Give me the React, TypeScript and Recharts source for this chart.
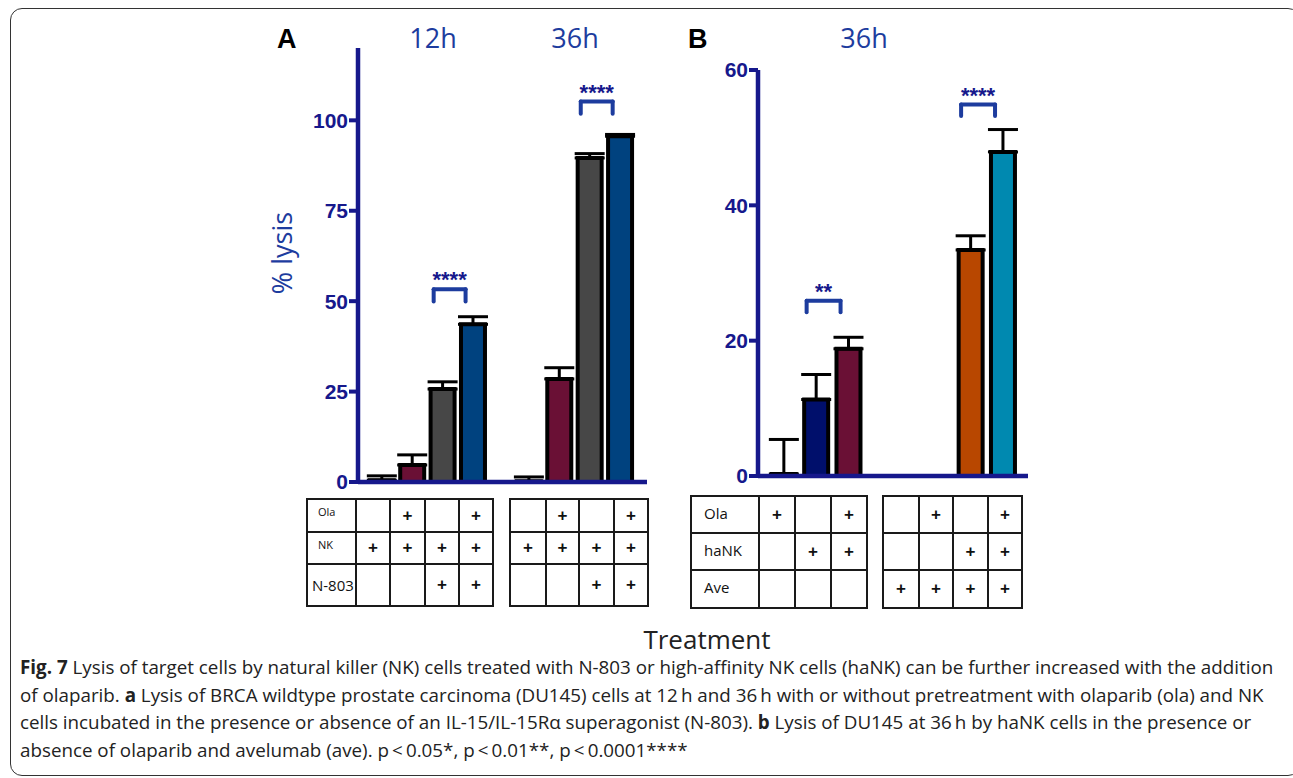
import React from 'react';
import { BarChart, Bar, XAxis, YAxis, Cell, ErrorBar, ReferenceLine } from 'recharts';

// panel A: % lysis at 12h and 36h, four conditions per time point
const groupsA = ['12h', '36h'];
const lysisA = [
  [0.5, 4.7, 25.7, 43.6],
  [0.2, 28.5, 89.6, 95.6],
];
const errA = [
  [1.2, 2.8, 2.0, 2.1],
  [1.2, 3.1, 1.2, 0.5],
];
const coloursA = ['#ffffff', '#6a1035', '#474747', '#00427f'];
const ticksA = [0, 25, 50, 75, 100];

// panel B: % lysis at 36h, without / with avelumab
const groupsB = ['no Ave', 'Ave'];
const lysisB: (number | null)[][] = [
  [0.3, 11.3, 18.8],
  [null, null, 33.4, 47.9],
];
const errB: (number | null)[][] = [
  [5.1, 3.7, 1.7],
  [null, null, 2.1, 3.3],
];
const coloursB = [
  ['#ffffff', '#000f6b', '#6a1035'],
  ['#ffffff', '#ffffff', '#b84700', '#0089b0'],
];
const ticksB = [0, 20, 40, 60];

const sigA = [
  { group: 0, from: 2, to: 3, level: 53.3, stars: '****' },
  { group: 1, from: 2, to: 3, level: 105.2, stars: '****' },
];
const sigB = [
  { group: 0, from: 1, to: 2, level: 25.9, stars: '**' },
  { group: 1, from: 2, to: 3, level: 54.9, stars: '****' },
];

// treatment tables
const rowNamesA = ['Ola', 'NK', 'N-803'];
const marksA = [
  [[0, 1, 0, 1], [1, 1, 1, 1], [0, 0, 1, 1]],
  [[0, 1, 0, 1], [1, 1, 1, 1], [0, 0, 1, 1]],
];
const rowNamesB = ['Ola', 'haNK', 'Ave'];
const marksB = [
  [[1, 0, 1], [0, 1, 1], [0, 0, 0]],
  [[0, 1, 0, 1], [0, 0, 1, 1], [1, 1, 1, 1]],
];

const NAVY = '#16188c';
const BLUE = '#1d3c9e';

const GAP_A = 4.84;
const GAP_B = 3.78;
const posA = (g: number, i: number) => 1 + i + g * GAP_A;
const posB = (g: number, i: number) => 1 + i + g * GAP_B;

const buildRows = (vals: (number | null)[][], errs: (number | null)[][], fills: (i: number, g: number) => string, pos: (g: number, i: number) => number) =>
  vals.flatMap((grp, g) =>
    grp.map((v, i) => ({
      x: pos(g, i),
      value: v,
      err: errs[g][i] == null ? null : [0, errs[g][i]],
      fill: fills(i, g),
    }))
  );

const dataA = buildRows(lysisA, errA, (i) => coloursA[i], posA);
const dataB = buildRows(lysisB, errB, (i, g) => coloursB[g][i], posB);

const tickStyle = { fill: NAVY, fontSize: 21, fontWeight: 'bold' as const, fontFamily: 'Liberation Sans, Arial, sans-serif' };

const brackets = (sig: typeof sigA, pos: (g: number, i: number) => number, leg: number) =>
  sig.flatMap((s, k) => {
    const a = pos(s.group, s.from) - 0.3;
    const b = pos(s.group, s.to) - 0.25;
    const common = { stroke: BLUE, strokeWidth: 4, strokeLinecap: 'round' as const, ifOverflow: 'visible' as const };
    return [
      <ReferenceLine key={`l${k}`} segment={[{ x: a, y: s.level }, { x: a, y: s.level - leg }]} {...common} />,
      <ReferenceLine key={`r${k}`} segment={[{ x: b, y: s.level }, { x: b, y: s.level - leg }]} {...common} />,
      <ReferenceLine
        key={`t${k}`}
        segment={[{ x: a, y: s.level }, { x: b, y: s.level }]}
        {...common}
        label={{ value: s.stars, position: 'top', fill: NAVY, fontSize: 22, fontWeight: 'bold', fontFamily: 'Liberation Sans, Arial, sans-serif', offset: 2 }}
      />,
    ];
  });

const Panel = ({ data, domainX, domainY, ticksY, ticksX, margin, sig, pos, leg }: any) => (
  <BarChart width={400} height={480} data={data} margin={margin}>
    <XAxis
      type="number"
      dataKey="x"
      domain={domainX}
      ticks={ticksX}
      tick={false}
      tickSize={9}
      height={10}
      allowDataOverflow
      stroke={NAVY}
      strokeWidth={4.5}
      axisLine={{ stroke: NAVY, strokeWidth: 4.5 }}
      tickLine={{ stroke: NAVY, strokeWidth: 4 }}
    />
    <YAxis
      type="number"
      domain={domainY}
      ticks={ticksY}
      width={98}
      tickSize={9}
      tickMargin={1}
      allowDataOverflow
      stroke={NAVY}
      strokeWidth={4.5}
      tick={tickStyle}
      axisLine={{ stroke: NAVY, strokeWidth: 4.5 }}
      tickLine={{ stroke: NAVY, strokeWidth: 4 }}
    />
    <Bar dataKey="value" barSize={24} stroke="#000" strokeWidth={4} isAnimationActive={false}>
      {data.map((d: any, i: number) => (
        <Cell key={i} fill={d.fill} stroke="#000" strokeWidth={4} />
      ))}
      <ErrorBar dataKey="err" width={15} stroke="#000" strokeWidth={3} direction="y" />
    </Bar>
    {brackets(sig, pos, leg)}
  </BarChart>
);

const Grid = ({ left, top, cols, rows, labels, marks, labelStyle }: any) => {
  const cells: React.ReactNode[] = [];
  rows.forEach((_: number, r: number) => {
    if (labels) {
      cells.push(
        <div key={`l${r}`} style={{ background: '#fff', fontFamily: 'Open Sans, sans-serif', color: '#111', ...labelStyle(r) }}>
          {labels[r]}
        </div>
      );
    }
    marks[r].forEach((m: number, c: number) => {
      cells.push(
        <div key={`${r}-${c}`} style={{ background: '#fff', display: 'flex', alignItems: 'center', justifyContent: 'center', fontFamily: 'Liberation Sans, Arial, sans-serif', fontSize: 17, fontWeight: 'bold', color: '#111' }}>
          {m ? '+' : ''}
        </div>
      );
    });
  });
  return (
    <div
      style={{
        position: 'absolute',
        left,
        top,
        display: 'grid',
        gridTemplateColumns: cols.map((c: number) => `${c}px`).join(' '),
        gridTemplateRows: rows.map((r: number) => `${r}px`).join(' '),
        gap: 2,
        padding: 2,
        background: '#1a1a1a',
      }}
    >
      {cells}
    </div>
  );
};

const captionLines = [
  [['Fig. 7', true], [' Lysis of target cells by natural killer (NK) cells treated with N-803 or high-affinity NK cells (haNK) can be further increased with the addition', false]],
  [['of olaparib. ', false], ['a', true], [' Lysis of BRCA wildtype prostate carcinoma (DU145) cells at 12\u2009h and 36\u2009h with or without pretreatment with olaparib (ola) and NK', false]],
  [['cells incubated in the presence or absence of an IL-15/IL-15R\u03b1 superagonist (N-803). ', false], ['b', true], [' Lysis of DU145 at 36\u2009h by haNK cells in the presence or', false]],
  [['absence of olaparib and avelumab (ave). p\u2009<\u20090.05*, p\u2009<\u20090.01**, p\u2009<\u20090.0001****', false]],
];

export default function App() {
  const ticksXA = groupsA.flatMap((_, g) => lysisA[g].map((__, i) => posA(g, i)));
  const ticksXB = groupsB.flatMap((_, g) => lysisB[g].map((__, i) => posB(g, i)));
  const labelA = (r: number) =>
    r < 2
      ? { fontSize: 11, paddingLeft: 10, paddingTop: 4 }
      : { fontSize: 15, paddingLeft: 4, display: 'flex', alignItems: 'center' };
  const labelB = () => ({ fontSize: 15, paddingLeft: 12, display: 'flex', alignItems: 'center', paddingBottom: 4 });
  return (
    <div style={{ position: 'absolute', left: 0, top: 0, width: 1293, height: 778, overflow: 'hidden', background: '#fff' }}>
      <div
        style={{
          position: 'absolute',
          left: 10,
          top: 8,
          width: 1290,
          height: 768,
          border: '1.5px solid #333',
          borderRadius: 12,
          boxSizing: 'border-box',
        }}
      />
      <div style={{ position: 'absolute', left: 260, top: 20 }}>
        <Panel
          data={dataA}
          domainX={[0.21, 9.72]}
          domainY={[0, 120]}
          ticksY={ticksA}
          ticksX={ticksXA}
          margin={{ top: 28, right: 13, bottom: 8, left: 0 }}
          sig={sigA}
          pos={posA}
          leg={3.4}
        />
      </div>
      <div style={{ position: 'absolute', left: 660, top: 20 }}>
        <Panel
          data={dataB}
          domainX={[0.195, 8.55]}
          domainY={[0, 60]}
          ticksY={ticksB}
          ticksX={ticksXB}
          margin={{ top: 50, right: 32, bottom: 14, left: 0 }}
          sig={sigB}
          pos={posB}
          leg={1.7}
        />
      </div>
      <svg width={1293} height={778} style={{ position: 'absolute', left: 0, top: 0, pointerEvents: 'none' }}>
        <text x={277} y={48} fontFamily="Liberation Sans, Arial, sans-serif" fontWeight="bold" fontSize={27} fill="#000">A</text>
        <text x={688} y={48} fontFamily="Liberation Sans, Arial, sans-serif" fontWeight="bold" fontSize={27} fill="#000">B</text>
        <text x={433} y={48} textAnchor="middle" fontFamily="Open Sans, sans-serif" fontSize={27} fill={BLUE}>{groupsA[0]}</text>
        <text x={575} y={48} textAnchor="middle" fontFamily="Open Sans, sans-serif" fontSize={27} fill={BLUE}>{groupsA[1]}</text>
        <text x={864} y={48} textAnchor="middle" fontFamily="Open Sans, sans-serif" fontSize={27} fill={BLUE}>36h</text>
        <text x={292} y={253} transform="rotate(-90 292 253)" textAnchor="middle" fontFamily="Open Sans, sans-serif" fontSize={27} fill={BLUE}>% lysis</text>
        <text x={707} y={649} textAnchor="middle" fontFamily="Open Sans, sans-serif" fontSize={26} fill="#222">Treatment</text>
        {captionLines.map((line, k) => (
          <text key={k} x={20} y={674 + k * 27.5} fontFamily="Open Sans, sans-serif" fontSize={18.8} fill="#222">
            {line.map(([t, b], j) => (
              <tspan key={j} fontWeight={b ? 'bold' : 'normal'}>{t as string}</tspan>
            ))}
          </text>
        ))}
      </svg>
      <Grid left={306} top={498} cols={[47, 32, 33, 32, 32]} rows={[31, 30, 40]} labels={rowNamesA} marks={marksA[0]} labelStyle={labelA} />
      <Grid left={509} top={498} cols={[34, 31, 33, 32]} rows={[31, 30, 40]} marks={marksA[1]} />
      <Grid left={690} top={495} cols={[66, 34, 34, 34]} rows={[35, 35, 36]} labels={rowNamesB} marks={marksB[0]} labelStyle={labelB} />
      <Grid left={882} top={495} cols={[34, 32, 33, 32]} rows={[35, 35, 36]} marks={marksB[1]} />
    </div>
  );
}
